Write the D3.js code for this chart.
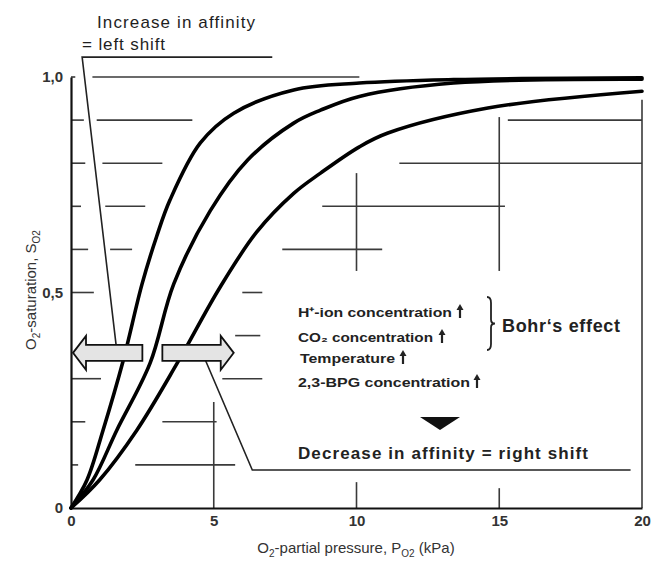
<!DOCTYPE html>
<html>
<head>
<meta charset="utf-8">
<script src="https://cdn.jsdelivr.net/npm/d3@7"></script>
<style>
  body { margin: 0; background: #fff; }
  text { font-family: "Liberation Sans", Arial, sans-serif; }
</style>
</head>
<body>
<script>
// curves: [pO2 kPa, saturation]
var leftShift = [[0,0],[0.56,0.065],[1.12,0.18],[1.82,0.34],[2.49,0.52],[3.0,0.63],[3.47,0.715],[4.53,0.847],[5.7,0.916],[7.8,0.97],[10.1,0.986],[13.4,0.994],[20,0.998]];
var normal = [[0,0],[0.77,0.065],[1.6,0.18],[2.77,0.336],[3.6,0.52],[4.88,0.69],[6.18,0.807],[7.8,0.893],[8.74,0.923],[10.1,0.955],[13.4,0.986],[20,0.995]];
var rightShift = [[0,0],[1.0,0.065],[2.3,0.18],[3.72,0.336],[5.2,0.51],[6.5,0.64],[7.8,0.73],[8.74,0.777],[10.1,0.838],[11.1,0.87],[14.6,0.928],[20,0.967]];

var xTicks = [0, 5, 10, 15, 20];
var yTicks = [0, 0.5, 1.0];

// leftover grid pieces of the scan: [S, from kPa, to kPa]
var hGrid = [
  [1.0,0,0.15],[1.0,0.75,10.1],
  [0.9,0,0.45],[0.9,0.9,4.25],[0.9,15.3,20],
  [0.8,0,0.5],[0.8,1.1,3.2],[0.8,11.5,20],
  [0.7,0,0.35],[0.7,1.2,2.6],[0.7,8.8,15.2],
  [0.6,0,0.6],[0.6,1.37,2.14],[0.6,7.4,10.9],
  [0.5,0,0.8],[0.5,6.0,6.7],
  [0.4,5.75,6.63],
  [0.3,0,1.05],[0.3,5.3,6.7],
  [0.2,0,0.5],[0.2,3.2,5.1],
  [0.1,0,0.25],[0.1,2.25,5.75]
];
// [kPa, from S, to S]
var vGrid = [[5,0,0.246],[10,0,0.06],[10,0.55,0.777],[15,0,0.046],[15,0.55,0.907],[20,0,0.947]];

var factors = ["H\u207A-ion concentration", "CO\u2082 concentration", "Temperature", "2,3-BPG concentration"];

var margin = {top: 77, right: 10, bottom: 54, left: 71};
var width = 652 - margin.left - margin.right,
    height = 562 - margin.top - margin.bottom;

var svg = d3.select("body").append("svg")
  .attr("width", 652)
  .attr("height", 562)
  .append("g")
  .attr("transform", "translate(" + margin.left + "," + margin.top + ")");

var x = d3.scaleLinear().domain([0, 20]).range([0, 571]);
var y = d3.scaleLinear().domain([0, 1]).range([height, 0]);

// grid fragments
svg.selectAll(".hg").data(hGrid).enter().append("line")
  .attr("x1", d => x(d[1])).attr("x2", d => x(d[2]))
  .attr("y1", d => y(d[0])).attr("y2", d => y(d[0]))
  .style("stroke", "#3a3a3a").style("stroke-width", 1.6);

svg.selectAll(".vg").data(vGrid).enter().append("line")
  .attr("x1", d => x(d[0])).attr("x2", d => x(d[0]))
  .attr("y1", d => y(d[1])).attr("y2", d => y(d[2]))
  .style("stroke", "#3a3a3a").style("stroke-width", 1.6);

// axes
var xAxis = d3.axisBottom(x).tickValues(xTicks).tickSize(0).tickSizeOuter(0).tickPadding(7);
var yAxis = d3.axisLeft(y).tickValues(yTicks).tickSize(0).tickSizeOuter(0).tickPadding(8)
  .tickFormat(d => d === 0 ? "0" : d3.format(".1f")(d).replace(".", ","));

var gx = svg.append("g").attr("transform", "translate(0," + height + ")").call(xAxis);
var gy = svg.append("g").call(yAxis);
[gx, gy].forEach(g => {
  g.select(".domain").style("stroke", "#111").style("stroke-width", 2.2);
  g.selectAll("text").style("font-size", "15px").style("font-weight", 700).style("fill", "#333");
});

// annotation leader lines
var leader = d3.line().x(d => x(d[0])).y(d => y(d[1]));
svg.append("path").attr("d", leader([[7.05,1.046],[0.39,1.046],[1.6,0.367]]))
  .style("fill", "none").style("stroke", "#222").style("stroke-width", 1.6);
svg.append("path").attr("d", leader([[4.63,0.355],[6.35,0.088],[19.6,0.088]]))
  .style("fill", "none").style("stroke", "#222").style("stroke-width", 1.6);

// curves
var line = d3.line()
  .curve(d3.curveCatmullRom.alpha(0.5))
  .x(d => x(d[0]))
  .y(d => y(d[1]));

svg.selectAll(".curve").data([leftShift, normal, rightShift]).enter()
  .append("path")
  .style("fill", "none")
  .style("stroke", "#000")
  .style("stroke-width", 3.6)
  .style("stroke-linecap", "round")
  .attr("d", line);

// block arrows
function blockArrow(tail, tip, s) {
  var dir = tip > tail ? 1 : -1;
  var x0 = x(tail), x1 = x(tip), yc = y(s);
  var hx = x1 - dir * 13;
  var pts = [[x0, yc - 8], [hx, yc - 8], [hx, yc - 17], [x1, yc], [hx, yc + 17], [hx, yc + 8], [x0, yc + 8]];
  svg.append("polygon").attr("points", pts.map(p => p.join(",")).join(" "))
    .style("fill", "#e4e4e4").style("stroke", "#111").style("stroke-width", 1.8)
    .style("stroke-linejoin", "miter");
}
blockArrow(2.5, 0.07, 0.36);
blockArrow(3.2, 5.7, 0.36);

// texts
svg.append("text").attr("x", 97 - margin.left).attr("y", 28 - margin.top)
  .style("font-size", "17px").style("fill", "#1e1e1e").attr("textLength", 158)
  .text("Increase in affinity");
svg.append("text").attr("x", 82 - margin.left).attr("y", 50 - margin.top)
  .style("font-size", "17px").style("fill", "#1e1e1e").attr("textLength", 83)
  .text("= left shift");

var fy = [317, 342, 363, 387];
var fX = [298, 298, 300, 298];
var fArrowX = [460, 442, 403, 477];
var fLen = [154, 135, 95, 172];
factors.forEach((f, i) => {
  svg.append("text").attr("x", fX[i] - margin.left).attr("y", fy[i] - margin.top)
    .style("font-size", "13px").style("font-weight", 700).style("fill", "#222")
    .attr("textLength", fLen[i]).attr("lengthAdjust", "spacingAndGlyphs")
    .text(f);
  var ax = fArrowX[i] - margin.left, ab = fy[i] - margin.top + 1;
  svg.append("path")
    .attr("d", "M" + ax + "," + ab + " L" + ax + "," + (ab - 10))
    .style("stroke", "#222").style("stroke-width", 2.2);
  svg.append("path")
    .attr("d", "M" + (ax - 3.5) + "," + (ab - 8) + " L" + ax + "," + (ab - 14) + " L" + (ax + 3.5) + "," + (ab - 8) + "Z")
    .style("fill", "#222");
});

// brace
var bx = 487 - margin.left, bt = 297 - margin.top, bb = 350 - margin.top, bm = (bt + bb) / 2;
svg.append("path")
  .attr("d", "M" + bx + "," + bt + " Q" + (bx + 4) + "," + bt + " " + (bx + 4) + "," + (bt + 6) +
    " L" + (bx + 4) + "," + (bm - 4) + " Q" + (bx + 4) + "," + bm + " " + (bx + 8) + "," + bm +
    " Q" + (bx + 4) + "," + bm + " " + (bx + 4) + "," + (bm + 4) +
    " L" + (bx + 4) + "," + (bb - 6) + " Q" + (bx + 4) + "," + bb + " " + bx + "," + bb)
  .style("fill", "none").style("stroke", "#222").style("stroke-width", 1.8);

svg.append("text").attr("x", 502 - margin.left).attr("y", 332 - margin.top)
  .style("font-size", "18px").style("font-weight", 700).style("fill", "#222")
  .attr("textLength", 118)
  .text("Bohr\u2018s effect");

svg.append("path")
  .attr("d", "M" + (420 - margin.left) + "," + (417 - margin.top) + " L" + (460 - margin.left) + "," + (417 - margin.top) +
    " L" + (440 - margin.left) + "," + (430 - margin.top) + "Z")
  .style("fill", "#111");

svg.append("text").attr("x", 298 - margin.left).attr("y", 459 - margin.top)
  .style("font-size", "17px").style("font-weight", 700).style("fill", "#222")
  .attr("textLength", 290)
  .text("Decrease in affinity = right shift");

// axis titles
var xt = svg.append("text").attr("x", 356 - margin.left).attr("y", 553 - margin.top)
  .attr("text-anchor", "middle").style("font-size", "15px").style("fill", "#333");
xt.append("tspan").text("O");
xt.append("tspan").attr("dy", 4).style("font-size", "10px").text("2");
xt.append("tspan").attr("dy", -4).text("-partial pressure, P");
xt.append("tspan").attr("dy", 4).style("font-size", "10px").text("O2");
xt.append("tspan").attr("dy", -4).text(" (kPa)");

var yt = svg.append("text")
  .attr("transform", "translate(" + (36 - margin.left) + "," + (290 - margin.top) + ") rotate(-90)")
  .attr("text-anchor", "middle").style("font-size", "15px").style("fill", "#333");
yt.append("tspan").text("O");
yt.append("tspan").attr("dy", 4).style("font-size", "10px").text("2");
yt.append("tspan").attr("dy", -4).text("-saturation, S");
yt.append("tspan").attr("dy", 4).style("font-size", "10px").text("O2");
</script>
</body>
</html>
